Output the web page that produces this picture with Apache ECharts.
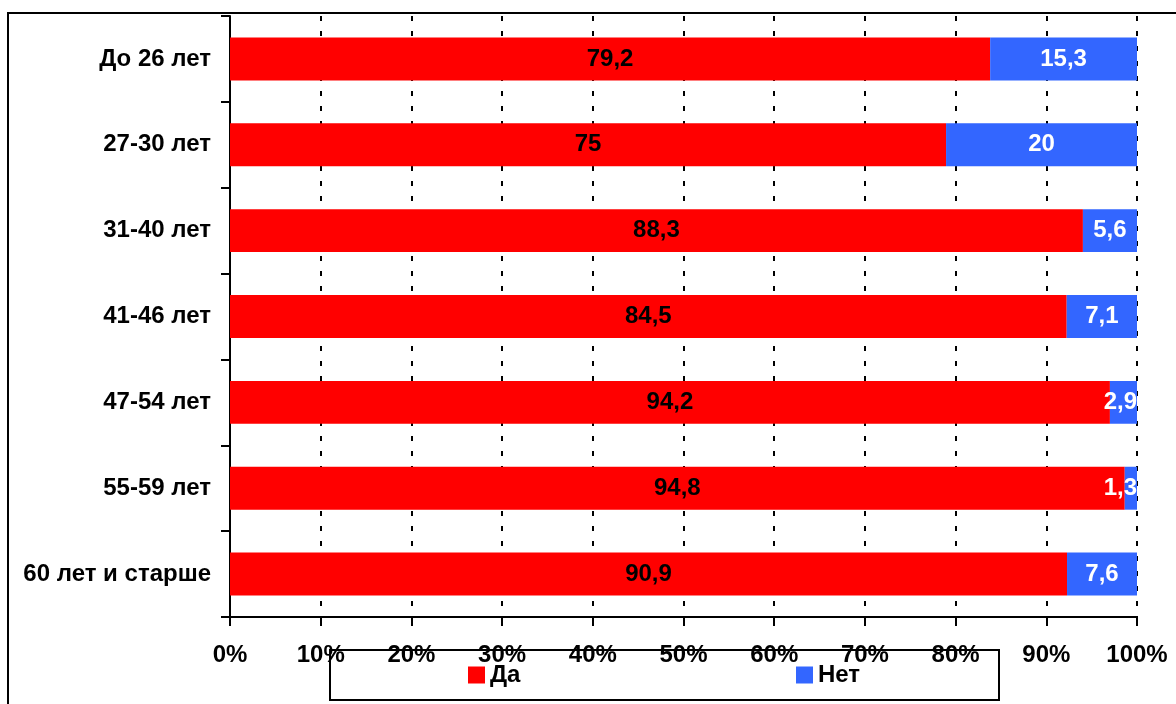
<!DOCTYPE html>
<html>
<head>
<meta charset="utf-8">
<script src="https://cdn.jsdelivr.net/npm/echarts@6/dist/echarts.min.js"></script>
<style>html,body{margin:0;padding:0;background:#fff}#c{width:1176px;height:704px}</style>
</head>
<body>
<div id="c"></div>
<script>
const categories = ['До 26 лет', '27-30 лет', '31-40 лет', '41-46 лет', '47-54 лет', '55-59 лет', '60 лет и старше'];
const daValues = [79.2, 75, 88.3, 84.5, 94.2, 94.8, 90.9];
const netValues = [15.3, 20, 5.6, 7.1, 2.9, 1.3, 7.6];
const seriesNames = ['Да', 'Нет'];
const xTickLabels = ['0%', '10%', '20%', '30%', '40%', '50%', '60%', '70%', '80%', '90%', '100%'];

const FONT = '"Liberation Sans", Arial, sans-serif';
const fmt = v => String(v).replace('.', ',');
const share = (a, b) => a.map((v, i) => v / (v + b[i]) * 100);
const daShare = share(daValues, netValues);
const netShare = share(netValues, daValues);

// narrow segments: label pushed to fit inside the plot (right-aligned at the edge)
const netData = netShare.map(v => v < 4
  ? {value: v, label: {position: 'insideRight', distance: 0}}
  : v);

const chart = echarts.init(document.getElementById('c'), null, {renderer: 'canvas'});
chart.setOption({
  animation: false,
  backgroundColor: '#fff',
  grid: {left: 230, right: 39, top: 16, bottom: 87, containLabel: false},
  xAxis: {
    type: 'value', min: 0, max: 100, interval: 10,
    axisLine: {show: true, lineStyle: {color: '#000', width: 2}},
    axisTick: {show: true, length: 9, lineStyle: {color: '#000', width: 2}},
    axisLabel: {
      margin: 26, color: '#000', fontFamily: FONT, fontWeight: 'bold', fontSize: 24,
      formatter: v => xTickLabels[Math.round(v / 10)]
    },
    splitLine: {show: true, lineStyle: {color: '#000', width: 2, type: [5, 10]}}
  },
  yAxis: {
    type: 'category', data: categories, inverse: true,
    axisLine: {show: true, lineStyle: {color: '#000', width: 2}},
    axisTick: {show: true, length: 9, lineStyle: {color: '#000', width: 2}},
    axisLabel: {margin: 19, color: '#000', fontFamily: FONT, fontWeight: 'bold', fontSize: 24}
  },
  legend: [
    {data: [seriesNames[0]], left: 468, top: 663, padding: 0, itemWidth: 17, itemHeight: 17, itemGap: 5, icon: 'rect',
     textStyle: {color: '#000', fontFamily: FONT, fontWeight: 'bold', fontSize: 24}},
    {data: [seriesNames[1]], left: 796, top: 663, padding: 0, itemWidth: 17, itemHeight: 17, itemGap: 5, icon: 'rect',
     textStyle: {color: '#000', fontFamily: FONT, fontWeight: 'bold', fontSize: 24}}
  ],
  graphic: [
    {type: 'rect', shape: {x: 8, y: 13, width: 1300, height: 800}, style: {fill: 'none', stroke: '#000', lineWidth: 2}, z: 100, silent: true},
    {type: 'rect', shape: {x: 330, y: 650, width: 669, height: 50}, style: {fill: 'none', stroke: '#000', lineWidth: 2}, z: 100, silent: true}
  ],
  series: [
    {
      name: seriesNames[0], type: 'bar', stack: 'total', barCategoryGap: '50%',
      data: daShare, itemStyle: {color: '#FF0000'},
      label: {show: true, position: 'inside', color: '#000', fontFamily: FONT, fontWeight: 'bold', fontSize: 24,
        formatter: p => fmt(daValues[p.dataIndex])}
    },
    {
      name: seriesNames[1], type: 'bar', stack: 'total',
      data: netData, itemStyle: {color: '#3366FF'},
      label: {show: true, position: 'inside', color: '#fff', fontFamily: FONT, fontWeight: 'bold', fontSize: 24,
        formatter: p => fmt(netValues[p.dataIndex])}
    }
  ]
});
</script>
</body>
</html>
